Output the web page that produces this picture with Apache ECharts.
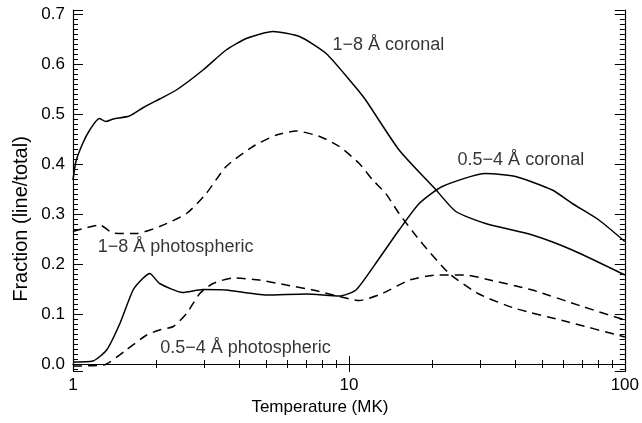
<!DOCTYPE html>
<html>
<head>
<meta charset="utf-8">
<script src="https://cdn.jsdelivr.net/npm/echarts@6/dist/echarts.min.js"></script>
<style>
  html, body { margin: 0; padding: 0; background: #fff; }
  #main { width: 642px; height: 423px; }
</style>
</head>
<body>
<div id="main"></div>
<script>
// temperature (MK) and fraction values
var coronal18T = [1, 1.025, 1.084, 1.15, 1.245, 1.316, 1.4, 1.6, 1.8, 2.06, 2.37, 2.96, 3.59, 4.25, 5.3, 6.62, 8.27, 10.3, 11.5, 15.2, 20.7, 24.4, 31.3, 46.2, 64.5, 100];
var coronal18 = [0.368, 0.405, 0.441, 0.468, 0.491, 0.485, 0.49, 0.496, 0.513, 0.53, 0.548, 0.588, 0.628, 0.651, 0.665, 0.655, 0.621, 0.561, 0.528, 0.428, 0.348, 0.305, 0.281, 0.258, 0.228, 0.178];

var coronal054T = [1, 1.18, 1.324, 1.479, 1.651, 1.796, 1.898, 2.06, 2.5, 2.96, 3.59, 5.02, 7.0, 9.23, 10.6, 12.5, 15.2, 17.98, 21.8, 31.3, 40.2, 54.6, 64.5, 80.5, 100];
var coronal054 = [0.004, 0.006, 0.028, 0.081, 0.148, 0.172, 0.181, 0.161, 0.143, 0.149, 0.148, 0.138, 0.14, 0.136, 0.148, 0.201, 0.268, 0.321, 0.355, 0.381, 0.375, 0.348, 0.321, 0.288, 0.245];

var photo18T = [1, 1.25, 1.399, 1.7, 2.06, 2.58, 3.04, 3.59, 4.49, 5.46, 6.44, 7.84, 9.23, 10.9, 12.2, 13.6, 15.2, 18.0, 23.1, 29.6, 40.2, 61.4, 100];
var photo18 = [0.265, 0.278, 0.262, 0.261, 0.275, 0.301, 0.341, 0.395, 0.435, 0.458, 0.466, 0.455, 0.435, 0.401, 0.368, 0.341, 0.301, 0.248, 0.181, 0.14, 0.111, 0.085, 0.054];

var photo054T = [1, 1.29, 1.56, 1.85, 2.06, 2.31, 2.58, 2.88, 3.22, 3.8, 4.74, 5.93, 7.4, 9.23, 10.9, 13.2, 16.6, 20.7, 26.5, 31.3, 46.2, 70.2, 100];
var photo054 = [-0.004, -0.002, 0.028, 0.058, 0.068, 0.075, 0.101, 0.141, 0.161, 0.172, 0.168, 0.158, 0.148, 0.135, 0.127, 0.141, 0.168, 0.178, 0.178, 0.17, 0.148, 0.115, 0.088];

// curve labels and where they sit (data coords)
var labelText = ['1\u22128 \u00c5 coronal', '0.5\u22124 \u00c5 coronal', '1\u22128 \u00c5 photospheric', '0.5\u22124 \u00c5 photospheric'];
var labelT = [13.9, 42.0, 2.354, 4.217];
var labelY = [0.638, 0.408, 0.2346, 0.0314];

function pairs(xs, ys) {
    return xs.map(function (x, i) { return [x, ys[i]]; });
}

var font = "'Liberation Sans', Arial, sans-serif";
var axisLine = { lineStyle: { color: '#000', width: 1.2 } };

function xAxisCfg(pos, labels) {
    return {
        type: 'log', logBase: 10, min: 1, max: 100, position: pos,
        axisLine: axisLine,
        axisTick: { inside: true, length: 8, lineStyle: { color: '#000' } },
        minorTick: { show: true, splitNumber: 9, length: 4, lineStyle: { color: '#000' } },
        splitLine: { show: false },
        axisLabel: { show: labels, fontSize: 17, color: '#000', fontFamily: font, margin: 6 },
        name: labels ? 'Temperature (MK)' : '',
        nameLocation: 'middle', nameGap: 26,
        nameTextStyle: { fontSize: 17, color: '#000', fontFamily: font, padding: [0, 58, 0, 0] }
    };
}

function yAxisCfg(pos, labels) {
    return {
        type: 'value', min: -0.014, max: 0.708, splitNumber: 7, position: pos,
        axisLine: axisLine,
        axisTick: { inside: true, length: 10, lineStyle: { color: '#000' } },
        minorTick: { show: true, splitNumber: 10, length: 5, lineStyle: { color: '#000' } },
        splitLine: { show: false },
        axisLabel: {
            show: labels, fontSize: 17, color: '#000', fontFamily: font, margin: 8,
            formatter: function (v) {
                return Math.abs(v * 10 - Math.round(v * 10)) < 1e-6 ? v.toFixed(1) : '';
            }
        }
    };
}

function line(name, xs, ys, dashed, axis) {
    return {
        name: name, type: 'line', data: pairs(xs, ys),
        xAxisIndex: axis, yAxisIndex: axis,
        showSymbol: false, smooth: 0.2, silent: true,
        lineStyle: { color: '#000', width: 1.5, type: dashed ? [9, 6] : 'solid' }
    };
}

var option = {
    backgroundColor: '#fff',
    animation: false,
    grid: { left: 73, right: 16, top: 10, bottom: 52 },
    xAxis: [xAxisCfg('bottom', true), xAxisCfg('top', false)],
    yAxis: [yAxisCfg('left', true), yAxisCfg('right', false)],
    // y title sits a little below the plot middle in the original
    graphic: [{
        type: 'text', x: 21, y: 219, rotation: Math.PI / 2, silent: true,
        style: {
            text: 'Fraction (line/total)', fontSize: 20, fontFamily: font, fill: '#000',
            align: 'center', verticalAlign: 'middle',
            textAlign: 'center', textVerticalAlign: 'middle'
        }
    }],
    series: [
        line('1-8 coronal', coronal18T, coronal18, false, 0),
        line('0.5-4 coronal', coronal054T, coronal054, false, 0),
        line('1-8 photospheric', photo18T, photo18, true, 1),
        line('0.5-4 photospheric', photo054T, photo054, true, 1),
        {
            type: 'scatter', symbolSize: 0, silent: true,
            data: labelText.map(function (t, i) { return { name: t, value: [labelT[i], labelY[i]] }; }),
            label: {
                show: true, position: 'inside', formatter: '{b}',
                fontSize: 18, color: '#000', fontFamily: font
            }
        }
    ]
};

var myChart = echarts.init(document.getElementById('main'));
myChart.setOption(option);
</script>
</body>
</html>
